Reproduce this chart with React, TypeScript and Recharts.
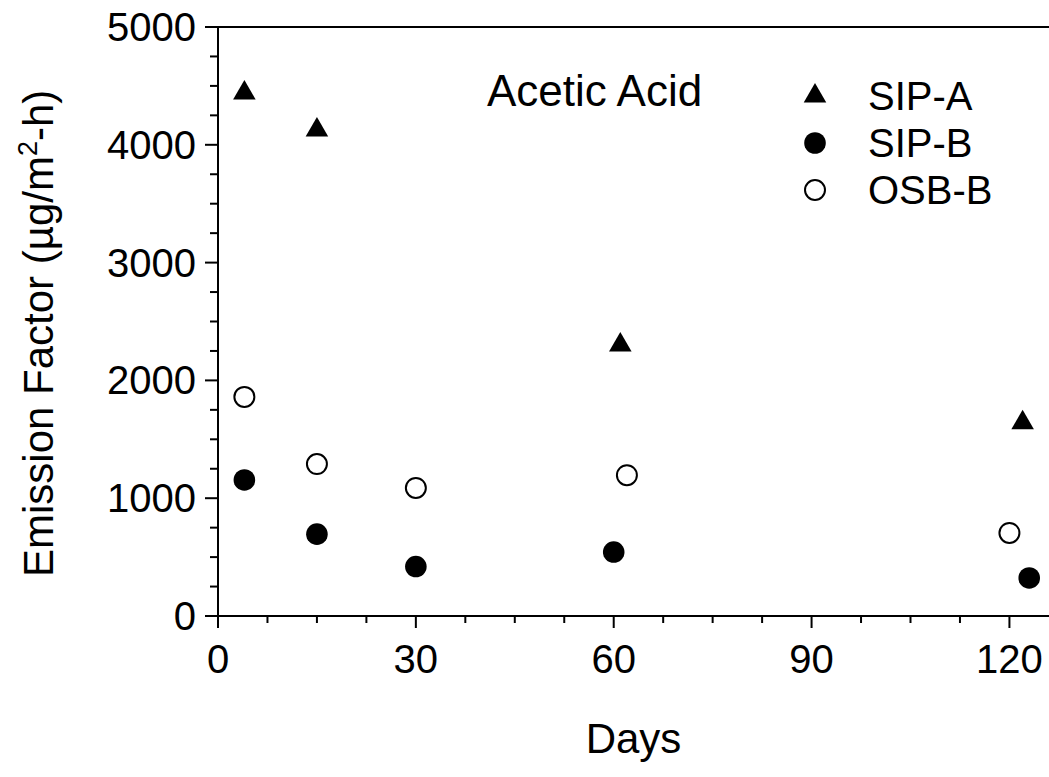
import { ScatterChart, Scatter, XAxis, YAxis, ReferenceLine, Legend, Customized, Symbols } from "recharts";

// days after installation
const sipADays = [4, 15, 61, 122];
const sipAValues = [4440, 4125, 2300, 1640];
const sipBDays = [4, 15, 30, 60, 123];
const sipBValues = [1155, 695, 420, 543, 323];
const osbBDays = [4, 15, 30, 62, 120];
const osbBValues = [1860, 1290, 1087, 1195, 705];

const seriesNames = ["SIP-A", "SIP-B", "OSB-B"];
const xTicks = [0, 7.5, 15, 22.5, 30, 37.5, 45, 52.5, 60, 67.5, 75, 82.5, 90, 97.5, 105, 112.5, 120];
const yTicks = Array.from({ length: 21 }, (_, i) => i * 250);

const FONT = "'Liberation Sans', Arial, Helvetica, sans-serif";

const toPoints = (days: number[], values: number[]) => days.map((d, i) => ({ x: d, y: values[i] }));

const markerStyles = [
  { type: "triangle", size: 220, fill: "#000", stroke: "none", strokeWidth: 0 },
  { type: "circle", size: 366, fill: "#000", stroke: "none", strokeWidth: 0 },
  { type: "circle", size: 314, fill: "#fff", stroke: "#000", strokeWidth: 2 },
] as const;

const makeShape = (idx: number) => (props: any) => {
  const s = markerStyles[idx];
  return (
    <Symbols
      cx={props.cx}
      cy={props.cy}
      type={s.type}
      size={s.size}
      fill={s.fill}
      stroke={s.stroke}
      strokeWidth={s.strokeWidth}
    />
  );
};

const XTick = (props: any) => {
  const { x, y, payload } = props;
  const major = payload.value % 30 === 0;
  return (
    <g>
      <line x1={x} x2={x} y1={y} y2={y + (major ? 12 : 7)} stroke="#000" strokeWidth={2} />
      {major && (
        <text x={x} y={y + 57} textAnchor="middle" fontSize={40} fontFamily={FONT} fill="#000">
          {payload.value}
        </text>
      )}
    </g>
  );
};

const YTick = (props: any) => {
  const { x, y, payload } = props;
  const major = payload.value % 1000 === 0;
  return (
    <g>
      <line x1={x} x2={x - (major ? 13 : 8)} y1={y} y2={y} stroke="#000" strokeWidth={2} />
      {major && (
        <text x={x - 22} y={y + 14} textAnchor="end" fontSize={40} fontFamily={FONT} fill="#000">
          {payload.value}
        </text>
      )}
    </g>
  );
};

const YTitle = (props: any) => {
  const vb = props.viewBox;
  const x = vb.x + 53;
  const y = vb.y + vb.height - 39;
  return (
    <text
      transform={`translate(${x},${y}) rotate(-90)`}
      textAnchor="start"
      fontSize={42}
      fontFamily={FONT}
      fill="#000"
    >
      <tspan>Emission Factor (µg/m</tspan>
      <tspan fontSize={27} dy={-16}>2</tspan>
      <tspan dy={16}>-h)</tspan>
    </text>
  );
};

const XTitle = (props: any) => {
  const vb = props.viewBox;
  return (
    <text x={vb.x + vb.width / 2} y={vb.y + 137} textAnchor="middle" fontSize={42} fontFamily={FONT} fill="#000">
      Days
    </text>
  );
};

const renderLegend = () => (
  <svg width={240} height={150}>
    {seriesNames.map((name, i) => {
      const s = markerStyles[i];
      const cy = 24 + i * 47;
      return (
        <g key={name}>
          <Symbols cx={20} cy={cy} type={s.type} size={s.size} fill={s.fill} stroke={s.stroke} strokeWidth={s.strokeWidth} />
          <text x={73} y={cy + 14} fontSize={40} fontFamily={FONT} fill="#000">
            {name}
          </text>
        </g>
      );
    })}
  </svg>
);

const Title = () => (
  <text x={487} y={106} fontSize={44} fontFamily={FONT} fill="#000">
    Acetic Acid
  </text>
);

export default function App() {
  return (
    <div style={{ position: "absolute", left: 0, top: 0, background: "#fff" }}>
      <ScatterChart width={1049} height={777} margin={{ top: 27, right: 0, bottom: 0, left: 0 }}>
        <XAxis
          type="number"
          dataKey="x"
          domain={[0, 126]}
          ticks={xTicks}
          interval={0}
          tickSize={0}
          tickMargin={0}
          tickLine={false}
          tick={<XTick />}
          height={161}
          axisLine={{ stroke: "#000", strokeWidth: 2 }}
          label={<XTitle />}
        />
        <YAxis
          type="number"
          dataKey="y"
          domain={[0, 5000]}
          ticks={yTicks}
          interval={0}
          tickSize={0}
          tickMargin={0}
          tickLine={false}
          tick={<YTick />}
          width={218}
          axisLine={{ stroke: "#000", strokeWidth: 2 }}
          label={<YTitle />}
        />
        <ReferenceLine y={5000} stroke="#000" strokeWidth={2} />
        <Scatter name={seriesNames[0]} data={toPoints(sipADays, sipAValues)} shape={makeShape(0)} isAnimationActive={false} />
        <Scatter name={seriesNames[1]} data={toPoints(sipBDays, sipBValues)} shape={makeShape(1)} isAnimationActive={false} />
        <Scatter name={seriesNames[2]} data={toPoints(osbBDays, osbBValues)} shape={makeShape(2)} isAnimationActive={false} />
        <Legend
          layout="horizontal"
          align="center"
          verticalAlign="middle"
          content={renderLegend}
          wrapperStyle={{ left: 795, top: 72, width: 240, height: 150 }}
        />
        <Customized component={<Title />} />
      </ScatterChart>
    </div>
  );
}
